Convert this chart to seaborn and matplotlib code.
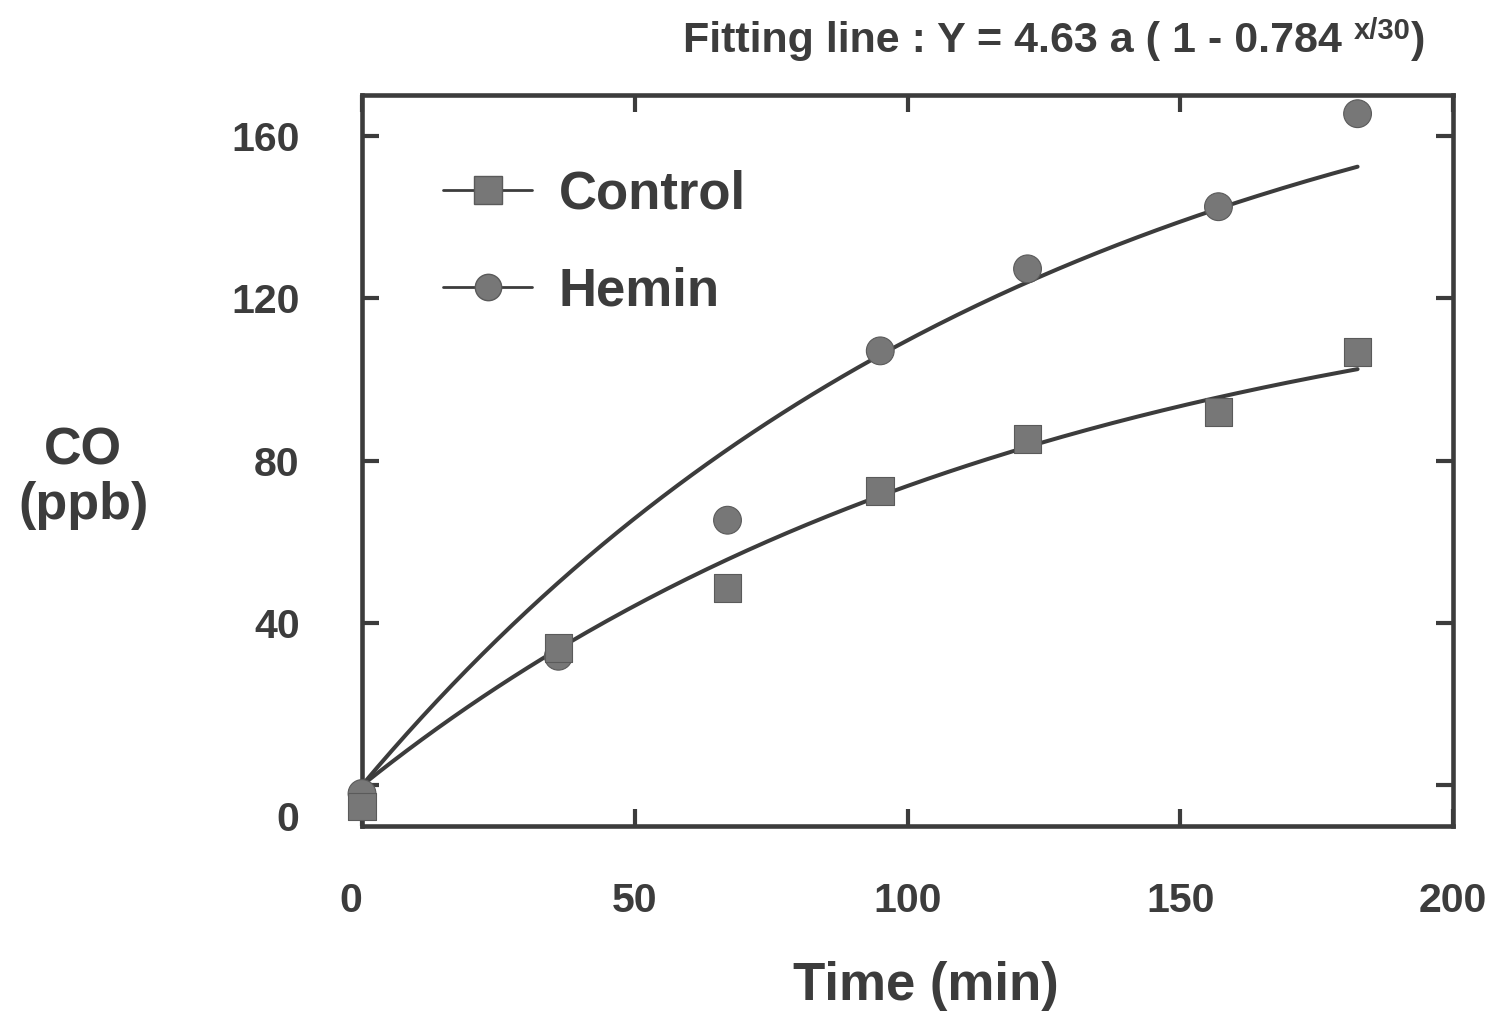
import numpy as np
import pandas as pd
import matplotlib.pyplot as plt
import matplotlib.transforms as mtransforms
from matplotlib.lines import Line2D
import seaborn as sns

# Data
time_min = [0, 36, 67, 95, 122, 157, 182.5]
control_co = [-5.2, 33.8, 48.6, 72.5, 85.3, 92.0, 106.8]
hemin_co = [-2.0, 31.8, 65.3, 107.0, 127.2, 142.5, 165.4]

# Fitting line : Y = 4.63 a (1 - 0.784^(x/30)), "a" per group
fit_a_control = 28.66
fit_a_hemin = 42.6

x_ticks = [0, 50, 100, 150, 200]
y_ticks = [0, 40, 80, 120, 160]

INK = '#3c3c3c'
MARK = '#777777'

sns.set_style('ticks')
plt.rcParams['font.family'] = ['Liberation Sans', 'DejaVu Sans']
plt.rcParams['font.weight'] = 'bold'

# hemin first so the control squares are drawn on top where they overlap
pts = pd.DataFrame({
    'time': time_min * 2,
    'co': hemin_co + control_co,
    'group': ['Hemin'] * len(time_min) + ['Control'] * len(time_min),
})

# fitted curves
xs = np.linspace(0, max(time_min), 200)
fit = pd.DataFrame({
    'time': np.concatenate([xs, xs]),
    'co': np.concatenate([4.63 * fit_a_control * (1 - 0.784 ** (xs / 30)),
                          4.63 * fit_a_hemin * (1 - 0.784 ** (xs / 30))]),
    'group': ['Control'] * len(xs) + ['Hemin'] * len(xs),
})

fig = plt.figure(figsize=(14.88, 10.11), dpi=100)
ax = fig.add_axes([0.2433, 0.183, 0.7332, 0.723])

sns.lineplot(data=fit, x='time', y='co', units='group', estimator=None,
             color=INK, lw=2.9, ax=ax, legend=False)
sns.scatterplot(data=pts, x='time', y='co', style='group',
                markers={'Control': 's', 'Hemin': 'o'},
                s=20 ** 2, color=MARK, edgecolor='#5a5a5a', linewidth=0.8,
                ax=ax, legend=False, zorder=3, clip_on=False)

ax.set_xlim(0, 200)
ax.set_ylim(-10, 170)
ax.set_xticks(x_ticks)
ax.set_yticks(y_ticks)
ax.set_xlabel('')
ax.set_ylabel('')

for side in ['top', 'right', 'bottom', 'left']:
    ax.spines[side].set_visible(True)
    ax.spines[side].set_linewidth(3.3)
    ax.spines[side].set_color(INK)

ax.tick_params(direction='in', length=12, width=3, color=INK,
               top=True, right=True, labelsize=29.5, labelcolor=INK)
ax.tick_params(axis='x', pad=40)
ax.tick_params(axis='y', pad=45)

# the "0" labels sit a bit off their ticks in the original
fig.canvas.draw()
lbl0 = ax.get_yticklabels()[0]
lbl0.set_transform(lbl0.get_transform() +
                   mtransforms.ScaledTranslation(0, -22 / 72, fig.dpi_scale_trans))
xlbl0 = ax.get_xticklabels()[0]
xlbl0.set_transform(xlbl0.get_transform() +
                    mtransforms.ScaledTranslation(-8 / 72, 0, fig.dpi_scale_trans))

handles = [
    Line2D([], [], color=INK, lw=2, marker='s', markersize=20,
           markerfacecolor=MARK, markeredgecolor='#5a5a5a'),
    Line2D([], [], color=INK, lw=2, marker='o', markersize=19,
           markerfacecolor=MARK, markeredgecolor='#5a5a5a'),
]
leg = ax.legend(handles, ['Control', 'Hemin'], loc='upper left',
                bbox_to_anchor=(0.074, 0.898), frameon=False,
                fontsize=38, handlelength=1.7, handletextpad=0.5,
                labelspacing=0.88, borderpad=0, borderaxespad=0)
for t in leg.get_texts():
    t.set_color(INK)

# axis titles
fig.text(0.622, 1 - 1000 / 1011, 'Time (min)', ha='center', va='baseline',
         fontsize=38, color=INK)
fig.text(0.056, 1 - 478 / 1011, 'CO\n(ppb)', ha='center', va='center',
         ma='center', fontsize=37.5, color=INK, linespacing=1.15)

# fitting line formula with superscript
t1 = fig.text(683 / 1488, 1 - 52 / 1011, 'Fitting line : Y = 4.63 a ( 1 - 0.784 ',
              ha='left', va='baseline', fontsize=31, color=INK)
t2 = ax.annotate('x/30', xy=(1, 0.55), xycoords=t1, ha='left', va='baseline',
                 fontsize=21, color=INK, annotation_clip=False)
ax.annotate(')', xy=(1, 0), xycoords=(t2, t1), ha='left', va='bottom',
            fontsize=31, color=INK, annotation_clip=False)

fig.savefig('out.png', dpi=100)
